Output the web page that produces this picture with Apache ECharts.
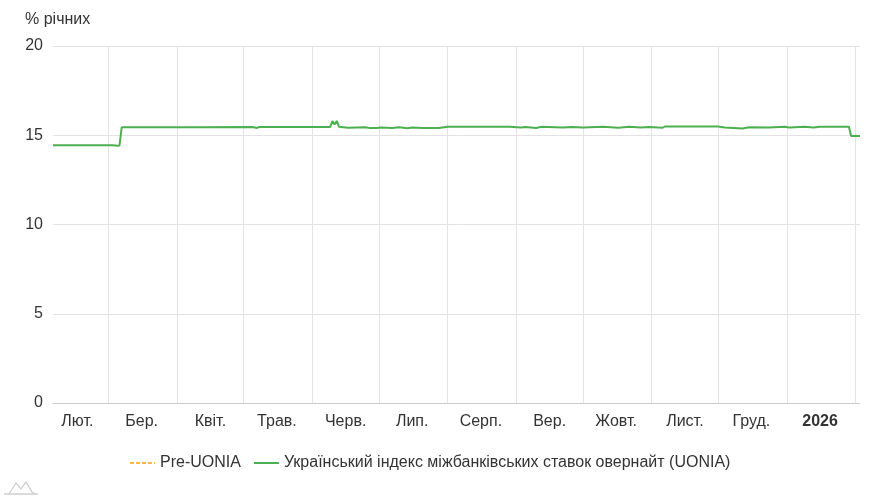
<!DOCTYPE html>
<html>
<head>
<meta charset="utf-8">
<script src="https://cdn.jsdelivr.net/npm/echarts@6/dist/echarts.min.js"></script>
<style>
  html, body { margin: 0; padding: 0; background: #fff; }
  #chart { width: 891px; height: 500px; }
</style>
</head>
<body>
<div id="chart"></div>
<script>
// axis range (calendar days)
const startDate = '2025-02-04'
const endDate = '2026-02-03'

// month labels, January shows the year instead
const monthLabels = ['Січ.', 'Лют.', 'Бер.', 'Квіт.', 'Трав.', 'Черв.', 'Лип.', 'Серп.', 'Вер.', 'Жовт.', 'Лист.', 'Груд.']
const yTicks = [0, 5, 10, 15, 20]

// UONIA readings, % річних
const uoniaDates = [
  '2025-02-04', '2025-03-03', '2025-03-05', '2025-03-06', '2025-03-07', '2025-04-10',
  '2025-05-05', '2025-05-07', '2025-05-08', '2025-06-09', '2025-06-10', '2025-06-11',
  '2025-06-12', '2025-06-13', '2025-06-17', '2025-06-25', '2025-06-27', '2025-06-30',
  '2025-07-02', '2025-07-07', '2025-07-10', '2025-07-14', '2025-07-16', '2025-07-21',
  '2025-07-28', '2025-08-01', '2025-08-29', '2025-09-03', '2025-09-05', '2025-09-10',
  '2025-09-12', '2025-09-22', '2025-09-26', '2025-10-01', '2025-10-10', '2025-10-17',
  '2025-10-22', '2025-10-27', '2025-10-31', '2025-11-06', '2025-11-07', '2025-12-01',
  '2025-12-04', '2025-12-12', '2025-12-15', '2025-12-24', '2025-12-31', '2026-01-02',
  '2026-01-09', '2026-01-13', '2026-01-16', '2026-01-29', '2026-01-30', '2026-02-03'
]
const uoniaValues = [
  14.44, 14.44, 14.41, 14.43, 15.45, 15.45,
  15.46, 15.41, 15.46, 15.46, 15.80, 15.60,
  15.80, 15.47, 15.42, 15.45, 15.40, 15.41,
  15.44, 15.40, 15.45, 15.39, 15.43, 15.40,
  15.41, 15.47, 15.47, 15.43, 15.46, 15.41,
  15.47, 15.43, 15.46, 15.43, 15.47, 15.42,
  15.47, 15.44, 15.46, 15.42, 15.49, 15.49,
  15.44, 15.38, 15.45, 15.44, 15.47, 15.44,
  15.48, 15.44, 15.47, 15.47, 14.96, 14.96
]
const preUoniaValues = []

// build the daily category list
let days = []
let d = new Date(startDate + 'T00:00:00Z')
const last = new Date(endDate + 'T00:00:00Z')
while (d <= last) {
  days.push(d.toISOString().slice(0, 10))
  d = new Date(d.getTime() + 86400000)
}
let lookup = {}
uoniaDates.forEach((k, i) => { lookup[k] = uoniaValues[i] })
let uoniaSeries = days.map(k => (k in lookup ? lookup[k] : null))

let font = '"Liberation Sans", Arial, sans-serif'

let chart = echarts.init(document.getElementById('chart'))
let option = {
  animation: false,
  textStyle: { fontFamily: font },
  title: {
    text: '% річних',
    left: 20,
    top: 7,
    textStyle: { fontFamily: font, fontSize: 16, fontWeight: 'normal', color: '#333' }
  },
  grid: {
    left: 53,
    right: 31,
    top: 46,
    bottom: 97
  },
  legend: {
    bottom: 24,
    left: 124,
    itemWidth: 25,
    itemHeight: 10,
    itemGap: 12,
    itemStyle: { opacity: 0 },
    textStyle: { fontFamily: font, fontSize: 16, color: '#333' },
    data: ['Pre-UONIA', 'Український індекс міжбанківських ставок овернайт (UONIA)']
  },
  xAxis: {
    type: 'category',
    data: days,
    boundaryGap: false,
    axisTick: { show: false },
    axisLine: { show: true, lineStyle: { color: '#cccccc' } },
    splitLine: {
      show: true,
      interval: (i, v) => v.slice(8) === '01',
      lineStyle: { color: '#e3e3e3', width: 1 }
    },
    axisLabel: {
      margin: 11,
      interval: (i, v) => (v.slice(5, 7) === '02' ? v.slice(8) === '15' : v.slice(8) === '16'),
      formatter: v => {
        let m = parseInt(v.slice(5, 7), 10)
        if (m === 1) return '{yr|' + v.slice(0, 4) + '}'
        return monthLabels[m - 1]
      },
      color: '#333',
      fontSize: 16,
      fontFamily: font,
      rich: {
        yr: { fontWeight: 'bold', fontSize: 16, color: '#333', fontFamily: font }
      }
    }
  },
  yAxis: {
    type: 'value',
    min: yTicks[0],
    max: yTicks[yTicks.length - 1],
    interval: 5,
    axisLine: { show: false },
    axisTick: { show: false },
    splitLine: { show: true, lineStyle: { color: '#e3e3e3', width: 1 } },
    axisLabel: { margin: 10, color: '#333', fontSize: 16, fontFamily: font }
  },
  series: [
    {
      name: 'Pre-UONIA',
      type: 'line',
      data: preUoniaValues,
      symbol: 'none',
      lineStyle: { color: '#f9b44c', width: 2, type: [4, 2] },
      itemStyle: { color: '#f9b44c' }
    },
    {
      name: 'Український індекс міжбанківських ставок овернайт (UONIA)',
      type: 'line',
      data: uoniaSeries,
      connectNulls: true,
      symbol: 'none',
      lineStyle: { color: '#4caf50', width: 2 },
      itemStyle: { color: '#4caf50' }
    }
  ],
  graphic: [
    {
      type: 'polyline',
      shape: { points: [[9, 494], [16, 483], [21, 489], [26, 482], [32, 492], [35, 494]] },
      style: { stroke: '#cfcfcf', fill: null, lineWidth: 1.3 }
    },
    {
      type: 'line',
      shape: { x1: 4, y1: 494, x2: 38, y2: 494 },
      style: { stroke: '#cfcfcf', lineWidth: 1.3 }
    }
  ]
}
chart.setOption(option)
</script>
</body>
</html>
